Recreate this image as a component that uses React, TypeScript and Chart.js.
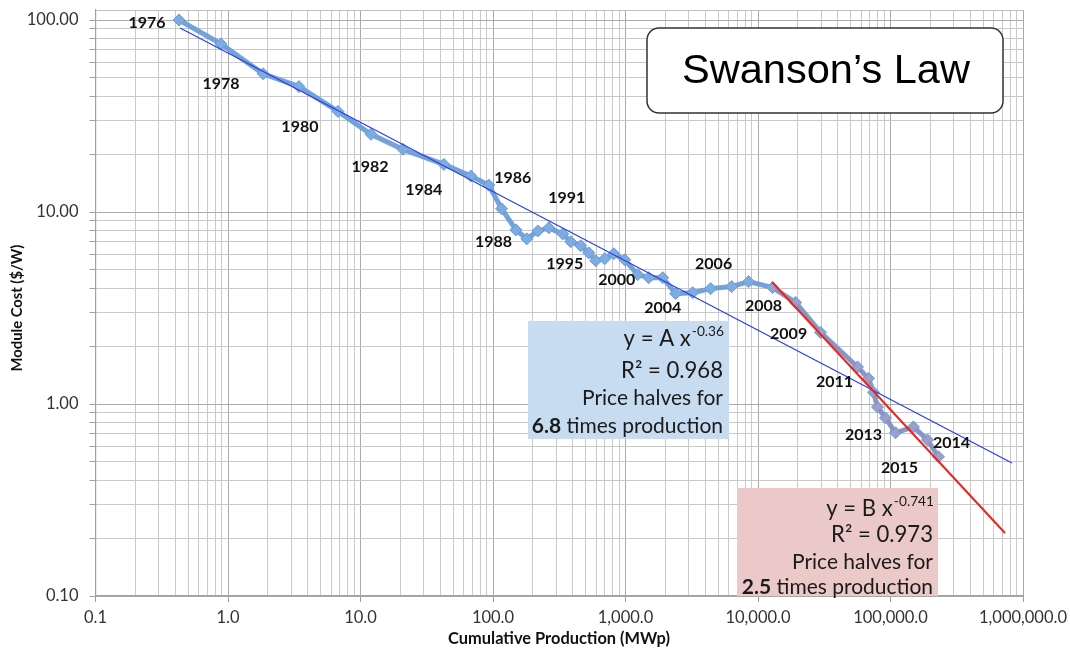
import React, { useEffect, useRef } from 'react';
import { Chart, registerables } from 'chart.js';
Chart.register(...registerables);

// ---- data ----
const cumulativeMWp = [
  0.427, 0.885, 1.84, 3.43, 6.76, 12.0, 20.9, 42.6, 68.0, 93.0,
  116, 149, 180, 218, 264, 336, 386, 459, 528, 596,
  697, 815, 986, 1236, 1496, 1909, 2392, 3213, 4395, 6324,
  8492, 12880, 19230, 29650, 56360, 68230, 74470, 79800, 91700, 109100,
  149000, 190100, 230100,
];
const moduleCost = [
  100, 75.1, 52.5, 45.0, 33.4, 25.4, 21.2, 17.7, 15.4, 13.8,
  10.4, 8.07, 7.25, 7.97, 8.27, 7.69, 7.0, 6.67, 6.13, 5.58,
  5.71, 6.06, 5.64, 4.72, 4.55, 4.55, 3.76, 3.80, 3.99, 4.09,
  4.34, 4.04, 3.38, 2.36, 1.56, 1.36, 1.15, 0.964, 0.846, 0.708,
  0.760, 0.650, 0.531,
];
const recentStartIndex = 31; // 2008 onwards

const fitAllX = [0.435, 826000];
const fitAllY = [90.8, 0.493];
const fitRecentX = [12760, 731000];
const fitRecentY = [4.32, 0.213];

const yearLabels = ['1976', '1978', '1980', '1982', '1984', '1986', '1988', '1991', '1995', '2000', '2004', '2006', '2008', '2009', '2011', '2013', '2014', '2015'];
const yearLabelX = [0.245, 0.885, 3.49, 11.8, 30.0, 141, 101, 360, 348, 859, 1909, 4624, 11020, 17020, 37840, 62520, 288400, 117000];
const yearLabelY = [96.5, 46.6, 27.9, 17.1, 13.0, 15.0, 7.0, 11.8, 5.38, 4.45, 3.18, 5.38, 3.26, 2.33, 1.30, 0.690, 0.628, 0.466];

const xTickValues = [0.1, 1, 10, 100, 1000, 10000, 100000, 1000000];
const xTickLabels = ['0.1', '1.0', '10.0', '100.0', '1,000.0', '10,000.0', '100,000.0', '1,000,000.0'];
const yTickValues = [0.1, 1, 10, 100];
const yTickLabels = ['0.10', '1.00', '10.00', '100.00'];

const title = 'Swanson\u2019s Law';
const xTitle = 'Cumulative Production (MWp)';
const yTitle = 'Module Cost ($/W)';
const fitAllText = { eq: 'y = A x', exp: '-0.36', r2: 'R\u00B2 = 0.968', l3: 'Price halves for', bold: '6.8', rest: ' times production' };
const fitRecentText = { eq: 'y = B x', exp: '-0.741', r2: 'R\u00B2 = 0.973', l3: 'Price halves for', bold: '2.5', rest: ' times production' };

// ---- helpers ----
const Y_MAX = Math.pow(10, 2 + 10 / 192);
const isPow10 = (v: number) => {
  const l = Math.log10(v);
  return Math.abs(l - Math.round(l)) < 1e-9;
};
const logTicks = (minExp: number, maxExp: number) => {
  const out: number[] = [];
  for (let e = minExp; e < maxExp; e++) {
    for (let s = 1; s <= 9; s++) out.push(Number((s * Math.pow(10, e)).toPrecision(10)));
  }
  out.push(Math.pow(10, maxExp));
  return out;
};
const labelFor = (v: number, vals: number[], labels: string[]) => {
  for (let i = 0; i < vals.length; i++) if (Math.abs(v / vals[i] - 1) < 1e-6) return labels[i];
  return '';
};

const LATO = 'Lato, "Open Sans", sans-serif';

function fitSize(ctx: CanvasRenderingContext2D, text: string, weight: string, family: string, target: number) {
  ctx.font = `${weight} 100px ${family}`;
  const w = ctx.measureText(text).width;
  return (100 * target) / w;
}

function drawInfoBox(ctx: CanvasRenderingContext2D, t: any, box: any, fill: string) {
  ctx.save();
  ctx.fillStyle = fill;
  ctx.fillRect(box.x, box.y, box.w, box.h);
  const big = fitSize(ctx, 'R\u00B2 = 0.968', '400', LATO, 102);
  const small = fitSize(ctx, 'Price halves for', '400', LATO, 141);
  const right = box.right;
  ctx.fillStyle = '#1a1a1a';
  ctx.textBaseline = 'middle';
  ctx.textAlign = 'left';
  ctx.font = `400 ${big}px ${LATO}`;
  const w1 = ctx.measureText(t.eq).width;
  const supSize = big * 0.62;
  ctx.font = `400 ${supSize}px ${LATO}`;
  const w2 = ctx.measureText(t.exp).width;
  const start = right - w1 - w2;
  ctx.font = `400 ${big}px ${LATO}`;
  ctx.fillText(t.eq, start, box.l1);
  ctx.font = `400 ${supSize}px ${LATO}`;
  ctx.fillText(t.exp, start + w1 + 1, box.l1 - big * 0.33);
  ctx.textAlign = 'right';
  ctx.font = `400 ${big}px ${LATO}`;
  ctx.fillText(t.r2, right, box.l2);
  ctx.font = `400 ${small}px ${LATO}`;
  ctx.fillText(t.l3, right, box.l3);
  ctx.textAlign = 'left';
  ctx.font = `400 ${small}px ${LATO}`;
  const wr = ctx.measureText(t.rest).width;
  ctx.font = `700 ${small}px ${LATO}`;
  const wb = ctx.measureText(t.bold).width;
  ctx.fillText(t.bold, right - wr - wb, box.l4);
  ctx.font = `400 ${small}px ${LATO}`;
  ctx.fillText(t.rest, right - wr, box.l4);
  ctx.restore();
}

const annotations = {
  id: 'swansonAnnotations',
  beforeDatasetsDraw(chart: any) {
    const ctx: CanvasRenderingContext2D = chart.ctx;
    drawInfoBox(ctx, fitAllText, { x: 528, y: 321, w: 201, h: 118, right: 723, l1: 339, l2: 371, l3: 398, l4: 426 }, '#c8dcf1');
    drawInfoBox(ctx, fitRecentText, { x: 737, y: 488, w: 201, h: 108, right: 933, l1: 509, l2: 535, l3: 562, l4: 587 }, '#ebc9c9');
    ctx.save();
    const bx = 647, by = 28, bw = 356, bh = 85, r = 12;
    ctx.beginPath();
    ctx.moveTo(bx + r, by);
    ctx.arcTo(bx + bw, by, bx + bw, by + bh, r);
    ctx.arcTo(bx + bw, by + bh, bx, by + bh, r);
    ctx.arcTo(bx, by + bh, bx, by, r);
    ctx.arcTo(bx, by, bx + bw, by, r);
    ctx.closePath();
    ctx.fillStyle = '#ffffff';
    ctx.fill();
    ctx.lineWidth = 1.5;
    ctx.strokeStyle = '#333333';
    ctx.stroke();
    const fam = '"Liberation Sans", Arial, sans-serif';
    const ts = fitSize(ctx, title, '400', fam, 288);
    ctx.font = `400 ${ts}px ${fam}`;
    ctx.fillStyle = '#000';
    ctx.textAlign = 'center';
    ctx.textBaseline = 'middle';
    ctx.fillText(title, 826, 72);
    ctx.restore();
  },
  afterDatasetsDraw(chart: any) {
    const ctx: CanvasRenderingContext2D = chart.ctx;
    const xs = chart.scales.x, ys = chart.scales.y;
    ctx.save();
    ctx.fillStyle = '#111';
    ctx.textAlign = 'center';
    ctx.textBaseline = 'middle';
    ctx.font = `700 16px ${LATO}`;
    yearLabels.forEach((t, i) => {
      ctx.fillText(t, xs.getPixelForValue(yearLabelX[i]), ys.getPixelForValue(yearLabelY[i]));
    });
    const xs2 = fitSize(ctx, xTitle, '700', LATO, 222);
    ctx.font = `700 ${xs2}px ${LATO}`;
    ctx.fillText(xTitle, 559, 639);
    const ys2 = fitSize(ctx, yTitle, '700', LATO, 127);
    ctx.translate(17, 308);
    ctx.rotate(-Math.PI / 2);
    ctx.font = `700 ${ys2}px ${LATO}`;
    ctx.fillText(yTitle, 0, 0);
    ctx.restore();
  },
};

export default function App() {
  const ref = useRef<HTMLCanvasElement>(null);
  useEffect(() => {
    const canvas = ref.current!;
    const series = cumulativeMWp.map((x, i) => ({ x, y: moduleCost[i] }));
    const recent = series.slice(recentStartIndex);
    const gridColor = (c: any) => {
      const v = c.tick ? c.tick.value : 1;
      return isPow10(v) ? '#ababab' : '#c9c9c9';
    };
    const chart = new Chart(canvas, {
      type: 'scatter',
      data: {
        datasets: [
          {
            data: fitRecentX.map((x, i) => ({ x, y: fitRecentY[i] })),
            showLine: true, borderColor: '#e8261c', borderWidth: 2, pointRadius: 0, order: 1,
          },
          {
            data: fitAllX.map((x, i) => ({ x, y: fitAllY[i] })),
            showLine: true, borderColor: '#2a3ee6', borderWidth: 1.2, pointRadius: 0, order: 2,
          },
          {
            data: recent,
            showLine: true, borderColor: 'rgba(214,110,130,0.55)', borderWidth: 1.5,
            pointStyle: 'rectRot', pointRadius: 4, pointBackgroundColor: 'rgba(168,160,205,0.6)',
            pointBorderColor: 'rgba(205,125,150,0.55)', pointBorderWidth: 1, order: 3,
          },
          {
            data: series,
            showLine: true, borderColor: 'rgba(104,154,216,0.92)', borderWidth: 5,
            pointStyle: 'rectRot', pointRadius: 6, pointBackgroundColor: '#7eabe1',
            pointBorderColor: '#6a9bd7', pointBorderWidth: 1, order: 4,
          },
        ] as any,
      },
      options: {
        animation: false,
        responsive: false,
        devicePixelRatio: 1,
        layout: { padding: { left: 0, right: 47, top: 10, bottom: 0 } },
        plugins: { legend: { display: false }, tooltip: { enabled: false } },
        elements: { line: { tension: 0 } },
        scales: {
          x: {
            type: 'logarithmic',
            min: 0.1,
            max: 1e6,
            afterBuildTicks: (s: any) => { s.ticks = logTicks(-1, 6).map((value) => ({ value, major: isPow10(value) })); },
            afterFit: (s: any) => { s.height = 58; s.paddingLeft = 0; s.paddingRight = 0; },
            grid: {
              color: gridColor,
              lineWidth: 1,
              tickLength: 6,
              tickColor: (c: any) => (c.tick && isPow10(c.tick.value) ? '#9a9a9a' : 'rgba(0,0,0,0)'),
            },
            border: { display: true, color: '#a0a0a0', width: 1.2 },
            ticks: {
              autoSkip: false, maxRotation: 0, minRotation: 0, padding: 6, color: '#333',
              font: { family: LATO, size: 16.5 },
              callback: (v: any) => labelFor(Number(v), xTickValues, xTickLabels),
            },
          },
          y: {
            type: 'logarithmic',
            min: 0.1,
            max: Y_MAX,
            afterBuildTicks: (s: any) => {
              const t = logTicks(-1, 2).map((value) => ({ value, major: isPow10(value) }));
              t.push({ value: Y_MAX, major: false });
              s.ticks = t;
            },
            afterFit: (s: any) => { s.width = 95.5; s.paddingTop = 0; s.paddingBottom = 0; },
            grid: {
              color: (c: any) => (c.tick && c.tick.value > 101 ? '#c0c0c0' : gridColor(c)),
              lineWidth: 1,
              tickLength: 6,
              tickColor: (c: any) => (c.tick && c.tick.value > 101 ? 'rgba(0,0,0,0)' : '#a0a0a0'),
            },
            border: { display: true, color: '#a0a0a0', width: 1.2 },
            ticks: {
              autoSkip: false, padding: 11, color: '#333',
              font: { family: LATO, size: 16.5 },
              callback: (v: any) => labelFor(Number(v), yTickValues, yTickLabels),
            },
          },
        },
      } as any,
      plugins: [annotations],
    });
    return () => chart.destroy();
  }, []);
  return (
    <div style={{ position: 'fixed', left: 0, top: 0, width: 1070, height: 654, background: '#fff' }}>
      <canvas ref={ref} width={1070} height={654} style={{ display: 'block', width: 1070, height: 654 }} />
    </div>
  );
}
